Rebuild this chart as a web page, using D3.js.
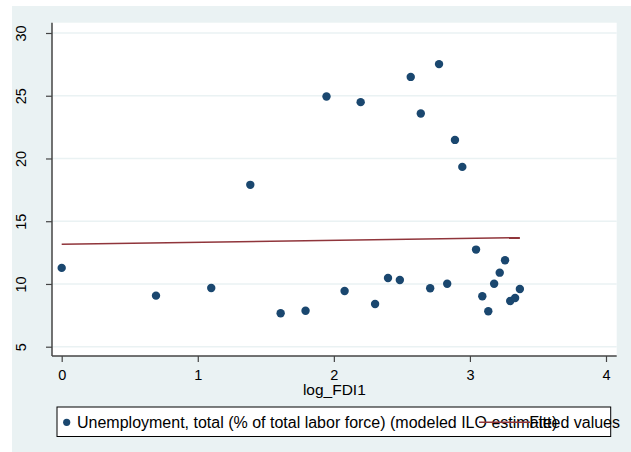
<!DOCTYPE html>
<html><head><meta charset="utf-8">
<script src="https://cdn.jsdelivr.net/npm/d3@7"></script>
<style>body{margin:0;background:#fff}svg{display:block}text{font-family:"Liberation Sans",Arial,sans-serif;fill:#000}</style>
</head><body>
<script>
const logFDI = [0, 0.693, 1.099, 1.386, 1.609, 1.792, 1.946, 2.079, 2.197, 2.303, 2.398, 2.485, 2.565, 2.639, 2.708, 2.773, 2.833, 2.890, 2.944, 3.045, 3.091, 3.135, 3.178, 3.219, 3.258, 3.296, 3.332, 3.367];
const unemployment = [11.28, 9.07, 9.68, 17.9, 7.66, 7.87, 24.94, 9.44, 24.49, 8.4, 10.48, 10.32, 26.5, 23.58, 9.66, 27.52, 10.02, 21.48, 19.33, 12.74, 9.02, 7.82, 10.02, 10.9, 11.89, 8.64, 8.88, 9.6];
const fittedX = [0, 3.367];
const fittedY = [13.17, 13.69];
const xTicks = [0, 1, 2, 3, 4];
const yTicks = [5, 10, 15, 20, 25, 30];
const xTitle = "log_FDI1";
const legendLabels = ["Unemployment, total (% of total labor force) (modeled ILO estimate)", "Fitted values"];

const W = 631, H = 452;
const navy = "#1a476f", maroon = "#90353b", bg = "#eaf2f3";
const svg = d3.select("body").append("svg").attr("width", W).attr("height", H);

svg.append("rect").attr("x", 12).attr("y", 6).attr("width", W - 12).attr("height", H - 6).attr("fill", bg);

const plot = {l: 52, r: 616.7, t: 22.7, b: 356};
svg.append("rect").attr("x", plot.l).attr("y", plot.t).attr("width", plot.r - plot.l).attr("height", plot.b - plot.t).attr("fill", "#fff");

const x = d3.scaleLinear().domain([0, 4]).range([61.7, 606]);
const y = d3.scaleLinear().domain([5, 30]).range([346.7, 33]);

// grid
svg.append("g").selectAll("line").data(yTicks).join("line")
  .attr("x1", plot.l).attr("x2", plot.r).attr("y1", d => y(d)).attr("y2", d => y(d))
  .attr("stroke", bg).attr("stroke-width", 1.5);

// axes
const yAxis = svg.append("g").attr("transform", `translate(${plot.l},0)`)
  .call(d3.axisLeft(y).tickValues(yTicks).tickSize(6).tickFormat(d3.format("d")));
yAxis.select(".domain").attr("d", `M0,${plot.t}V${plot.b}`).attr("stroke", "#444").attr("stroke-width", 1.5);
yAxis.selectAll(".tick line").attr("stroke", "#444").attr("stroke-width", 1.2);
yAxis.selectAll(".tick text").attr("transform", "translate(-26,0) rotate(-90)").attr("x", 0).attr("y", 0).attr("dy", 0)
  .attr("text-anchor", "middle").attr("font-size", 14.5).attr("font-family", '"Liberation Sans",Arial,sans-serif').attr("fill", "#000");

const xAxis = svg.append("g").attr("transform", `translate(0,${plot.b})`)
  .call(d3.axisBottom(x).tickValues(xTicks).tickSize(6).tickFormat(d3.format("d")));
xAxis.select(".domain").attr("d", `M${plot.l},0H${plot.r}`).attr("stroke", "#444").attr("stroke-width", 1.5);
xAxis.selectAll(".tick line").attr("stroke", "#444").attr("stroke-width", 1.2);
xAxis.selectAll(".tick text").attr("y", 23.5).attr("dy", 0).attr("font-size", 14.5).attr("font-family", '"Liberation Sans",Arial,sans-serif').attr("fill", "#000");

svg.append("text").attr("x", (plot.l + plot.r) / 2).attr("y", 395).attr("text-anchor", "middle")
  .attr("font-size", 15.5).text(xTitle);

// fitted line
const fitted = fittedX.map((d, i) => [d, fittedY[i]]);
svg.append("path").datum(fitted)
  .attr("d", d3.line().x(d => x(d[0])).y(d => y(d[1])))
  .attr("stroke", maroon).attr("stroke-width", 1.5).attr("fill", "none");

// points
svg.append("g").selectAll("circle").data(logFDI.map((d, i) => [d, unemployment[i]])).join("circle")
  .attr("cx", d => x(d[0])).attr("cy", d => y(d[1])).attr("r", 4.2).attr("fill", navy);

// legend
const lg = svg.append("g");
lg.append("rect").attr("x", 57).attr("y", 407).attr("width", 553.7).attr("height", 29.5)
  .attr("fill", "#fff").attr("stroke", "#000").attr("stroke-width", 1);
lg.append("circle").attr("cx", 66.7).attr("cy", 422.3).attr("r", 3.6).attr("fill", navy);
lg.append("text").attr("x", 77).attr("y", 428).attr("font-size", 16).text(legendLabels[0]);
lg.append("line").attr("x1", 479).attr("x2", 530).attr("y1", 422.3).attr("y2", 422.3)
  .attr("stroke", maroon).attr("stroke-width", 1.5);
lg.append("text").attr("x", 620).attr("y", 428).attr("text-anchor", "end").attr("font-size", 16).text(legendLabels[1]);
</script>
</body></html>
